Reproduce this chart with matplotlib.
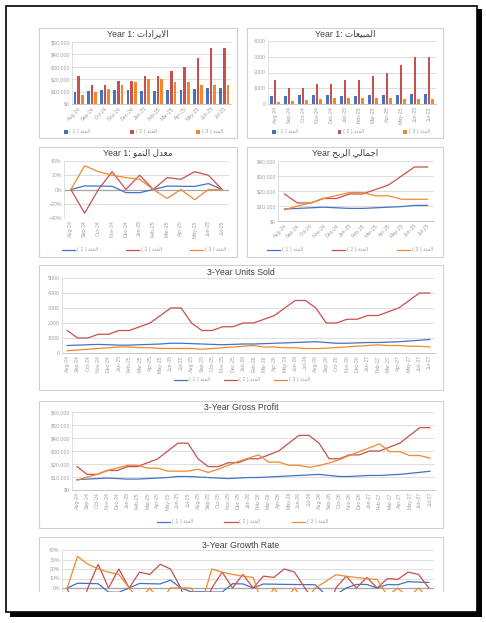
import matplotlib
matplotlib.use("Agg")
from matplotlib import pyplot as plt
from matplotlib.patches import Rectangle
from matplotlib.ticker import StrMethodFormatter, PercentFormatter

W, H = 486, 623

# ---- data -------------------------------------------------------------
month_names = ['Aug', 'Sep', 'Oct', 'Nov', 'Dec', 'Jan', 'Feb', 'Mar', 'Apr', 'May', 'Jun', 'Jul']
months = []
for yr in (24, 25, 26):
    for k, m in enumerate(month_names):
        months.append('%s-%d' % (m, yr if k < 5 else yr + 1))

rev_cat1 = [10000, 10500, 11000, 11500, 11000, 10500, 10500, 11000, 11500, 12000, 13000, 13000]
rev_cat2 = [22500, 15000, 15000, 18750, 18750, 22500, 22500, 26250, 30000, 37500, 45000, 45000]
rev_cat3 = [7500, 10000, 12500, 15000, 17500, 20000, 20000, 17500, 17500, 15000, 15000, 15000]

units_cat1 = [500, 525, 550, 575, 550, 525, 525, 550, 575, 600, 650, 650,
              625, 600, 575, 550, 575, 600, 600, 625, 650, 675, 700, 725,
              750, 700, 650, 650, 675, 700, 700, 725, 750, 800, 850, 900]
units_cat2 = [1500, 1000, 1000, 1250, 1250, 1500, 1500, 1750, 2000, 2500, 3000, 3000,
              2000, 1500, 1500, 1750, 1750, 2000, 2000, 2250, 2500, 3000, 3500, 3500,
              3000, 2000, 2000, 2250, 2250, 2500, 2500, 2750, 3000, 3500, 4000, 4000]
units_cat3 = [150, 200, 250, 300, 350, 400, 400, 350, 350, 300, 300, 300,
              300, 250, 300, 350, 400, 450, 500, 400, 400, 350, 350, 300,
              300, 320, 365, 410, 455, 500, 545, 500, 500, 450, 450, 400]

gp_cat1 = [8000, 8400, 8800, 9200, 8800, 8400, 8400, 8800, 9200, 9600, 10400, 10400,
           10000, 9600, 9200, 8800, 9200, 9600, 9600, 10000, 10400, 10800, 11200, 11600,
           12000, 11200, 10400, 10400, 10800, 11200, 11200, 11600, 12000, 12800, 13600, 14400]
gp_cat2 = [18000, 12000, 12000, 15000, 15000, 18000, 18000, 21000, 24000, 30000, 36000, 36000,
           24000, 18000, 18000, 21000, 21000, 24000, 24000, 27000, 30000, 36000, 42000, 42000,
           36000, 24000, 24000, 27000, 27000, 30000, 30000, 33000, 36000, 42000, 48000, 48000]
gp_cat3 = [7500, 10000, 12000, 15000, 17000, 19000, 19000, 16800, 16800, 14500, 14500, 14500,
           16000, 13500, 16000, 19000, 22000, 24500, 27000, 21500, 21500, 19000, 19000, 17500,
           18800, 20800, 23300, 26500, 29500, 32500, 35500, 29500, 29500, 26500, 26500, 24500]

gr_cat1 = [0, .05, .048, .045, -.043, -.045, 0, .048, .045, .043, .083, 0,
           -.04, -.04, -.042, -.043, .045, .043, 0, .042, .04, .038, .037, .036,
           .034, -.067, -.071, 0, .038, .037, 0, .036, .034, .067, .062, .059]
gr_cat2 = [0, -.333, 0, .25, 0, .2, 0, .167, .143, .25, .2, 0,
           -.333, -.25, 0, .167, 0, .143, 0, .125, .111, .2, .167, 0,
           -.143, -.333, 0, .125, 0, .111, 0, .1, .091, .167, .143, 0]
gr_cat3 = [0, .333, .25, .2, .167, .143, 0, -.125, 0, -.143, 0, 0,
           0, -.167, .2, .167, .143, .125, .111, -.2, 0, -.143, 0, -.143,
           0, .067, .14, .123, .11, .099, .09, -.083, 0, -.1, 0, -.111]

colors = ['#4472C4', '#C9504D', '#F0892E']
grid_c = '#d9d9d9'
txt_c = '#a0a0a0'

# ---- tiny arabic shaper (matplotlib has no bidi / joining) ---------------
FORMS = {
    '\u0627': ('\ufe8d', '\ufe8e', None, None),
    '\u0628': ('\ufe8f', '\ufe90', '\ufe91', '\ufe92'),
    '\u062a': ('\ufe95', '\ufe96', '\ufe97', '\ufe98'),
    '\u0629': ('\ufe93', '\ufe94', None, None),
    '\u062c': ('\ufe9d', '\ufe9e', '\ufe9f', '\ufea0'),
    '\u062d': ('\ufea1', '\ufea2', '\ufea3', '\ufea4'),
    '\u062f': ('\ufea9', '\ufeaa', None, None),
    '\u0631': ('\ufead', '\ufeae', None, None),
    '\u0639': ('\ufec9', '\ufeca', '\ufecb', '\ufecc'),
    '\u0641': ('\ufed1', '\ufed2', '\ufed3', '\ufed4'),
    '\u0644': ('\ufedd', '\ufede', '\ufedf', '\ufee0'),
    '\u0645': ('\ufee1', '\ufee2', '\ufee3', '\ufee4'),
    '\u0646': ('\ufee5', '\ufee6', '\ufee7', '\ufee8'),
    '\u0648': ('\ufeed', '\ufeee', None, None),
    '\u064a': ('\ufef1', '\ufef2', '\ufef3', '\ufef4'),
    '\u0626': ('\ufe89', '\ufe8a', '\ufe8b', '\ufe8c'),
    'LA': ('\ufefb', '\ufefc', None, None),
}


def shape_word(word):
    toks = []
    i = 0
    while i < len(word):
        if word[i] == '\u0644' and i + 1 < len(word) and word[i + 1] == '\u0627':
            toks.append('LA')
            i += 2
        else:
            toks.append(word[i])
            i += 1
    out = []
    for j, t in enumerate(toks):
        f = FORMS[t]
        jp = j > 0 and FORMS[toks[j - 1]][2] is not None
        jn = f[2] is not None and j + 1 < len(toks)
        if jp and jn:
            out.append(f[3])
        elif jp:
            out.append(f[1])
        elif jn:
            out.append(f[2])
        else:
            out.append(f[0])
    return ''.join(reversed(out))


def ar(text):
    return ' '.join(shape_word(w) for w in reversed(text.split(' ')))


cat_word = ar('الفئة')
series_labels = ['( 1 ) ' + cat_word, '( 2 ) ' + cat_word, '( 3 ) ' + cat_word]
FAM = ['Liberation Sans', 'DejaVu Sans']

# ---- figure -------------------------------------------------------------
fig = plt.figure(figsize=(W / 100, H / 100), dpi=100)
fig.patch.set_facecolor('white')


def fr(l, t, r, b):
    return [l / W, 1 - b / H, (r - l) / W, (b - t) / H]


def panel(l, t, r, b, title, tx=None, ty=None):
    fig.add_artist(Rectangle((l / W, 1 - b / H), (r - l) / W, (b - t) / H,
                             transform=fig.transFigure, fill=False,
                             ec='#d0d0d0', lw=0.8))
    fig.text((tx if tx else (l + r) / 2) / W, 1 - (ty if ty else t + 7) / H, title,
             ha='center', va='center', fontsize=6.3, color='#404040', family=FAM)


def style(ax, rot, fmt, yticks, ylim=None):
    ax.set_yticks(yticks)
    ax.set_ylim(ylim if ylim else (yticks[0], yticks[-1]))
    ax.yaxis.set_major_formatter(fmt)
    ax.grid(axis='y', color=grid_c, lw=0.6)
    ax.set_axisbelow(True)
    for s in ['top', 'right']:
        ax.spines[s].set_visible(False)
    ax.spines['left'].set_color(grid_c)
    ax.spines['left'].set_linewidth(0.6)
    ax.spines['bottom'].set_color('#bfbfbf')
    ax.spines['bottom'].set_linewidth(0.6)
    ax.tick_params(length=0, labelsize=3.8, labelcolor=txt_c, pad=1.5)
    for lab in ax.get_xticklabels() + ax.get_yticklabels():
        lab.set_family(FAM)
    if rot == 45:
        plt.setp(ax.get_xticklabels(), rotation=45, ha='right', rotation_mode='anchor')
    else:
        plt.setp(ax.get_xticklabels(), rotation=90)


def legend(ax, handles, l, r, y):
    leg = fig.legend(handles, series_labels, loc='center', ncol=3, mode='expand',
                     bbox_to_anchor=(l / W, 1 - y / H, (r - l) / W, 0), frameon=False,
                     prop={'family': FAM, 'size': 3.8}, labelcolor=txt_c,
                     handlelength=2.5 if isinstance(handles[0], plt.Line2D) else 0.7,
                     handleheight=0.7, handletextpad=0.3, borderaxespad=0)
    return leg


money = StrMethodFormatter('${x:,.0f}')

# Panel 1: revenue bars
panel(39, 28, 237, 138, 'Year 1: ' + ar('الايرادات'), ty=34)
ax = fig.add_axes(fr(72, 42, 231, 104))
x12 = list(range(12))
bars = []
for k, vals in enumerate([rev_cat1, rev_cat2, rev_cat3]):
    bars.append(ax.bar([i + (k - 1) * 0.27 for i in x12], vals, 0.2, color=colors[k]))
ax.set_xlim(-0.5, 11.5)
ax.set_xticks(x12, months[:12])
style(ax, 45, money, [0, 10000, 20000, 30000, 40000, 50000])
legend(ax, bars, 62, 225, 132)

# Panel 2: units bars
panel(247, 28, 443, 138, 'Year 1: ' + ar('المبيعات'), ty=34)
ax = fig.add_axes(fr(268, 41, 436, 104))
bars = []
for k, vals in enumerate([units_cat1, units_cat2, units_cat3]):
    bars.append(ax.bar([i + (k - 1) * 0.27 for i in x12], vals[:12], 0.2, color=colors[k]))
ax.set_xlim(-0.5, 11.5)
ax.set_xticks(x12, months[:12])
style(ax, 90, StrMethodFormatter('{x:.0f}'), [0, 1000, 2000, 3000, 4000])
legend(ax, bars, 270, 432, 132)

# Panel 3: growth lines
panel(39, 147, 237, 257, 'Year 1: ' + ar('معدل النمو'), ty=153)
ax = fig.add_axes(fr(64, 161, 229, 218))
lines = []
for k, vals in enumerate([gr_cat1, gr_cat2, gr_cat3]):
    lines += ax.plot(x12, vals[:12], color=colors[k], lw=0.9)
ax.axhline(0, color='#a6a6a6', lw=0.9, zorder=1)
ax.set_xlim(-0.5, 11.5)
ax.set_xticks(x12, months[:12])
style(ax, 90, PercentFormatter(1.0, decimals=0), [-0.4, -0.2, 0, 0.2, 0.4])
ax.spines['bottom'].set_visible(False)
legend(ax, lines, 60, 228, 250)

# Panel 4: gross profit lines
panel(247, 147, 443, 257, 'Year ' + ar('اجمالي الربح'), ty=153)
ax = fig.add_axes(fr(278, 161, 434, 221))
lines = []
for k, vals in enumerate([gp_cat1, gp_cat2, gp_cat3]):
    lines += ax.plot(x12, vals[:12], color=colors[k], lw=0.9)
ax.set_xlim(-0.5, 11.5)
ax.set_xticks(x12, months[:12])
style(ax, 45, money, [0, 10000, 20000, 30000, 40000])
legend(ax, lines, 265, 435, 250)

x36 = list(range(36))

# Panel 5: 3-year units
panel(39, 265, 443, 390, '3-Year Units Sold', ty=272)
ax = fig.add_axes(fr(62, 278, 435, 353))
lines = []
for k, vals in enumerate([units_cat1, units_cat2, units_cat3]):
    lines += ax.plot(x36, vals, color=colors[k], lw=0.9)
ax.set_xlim(-0.5, 35.5)
ax.set_xticks(x36, months)
style(ax, 90, StrMethodFormatter('{x:.0f}'), [0, 1000, 2000, 3000, 4000, 5000])
legend(ax, lines, 172, 312, 380)

# Panel 6: 3-year gross profit
panel(39, 401, 443, 528, '3-Year Gross Profit', ty=408)
ax = fig.add_axes(fr(72, 412, 435, 490))
lines = []
for k, vals in enumerate([gp_cat1, gp_cat2, gp_cat3]):
    lines += ax.plot(x36, vals, color=colors[k], lw=0.9)
ax.set_xlim(-0.5, 35.5)
ax.set_xticks(x36, months)
style(ax, 90, money, [0, 10000, 20000, 30000, 40000, 50000, 60000])
legend(ax, lines, 155, 330, 522)

# Panel 7: 3-year growth (cut by page end, only upper half visible)
panel(39, 537, 443, 640, '3-Year Growth Rate', ty=545)
ax = fig.add_axes(fr(62, 550, 434, 626))
for k, vals in enumerate([gr_cat1, gr_cat2, gr_cat3]):
    ax.plot(x36, vals, color=colors[k], lw=0.9)
ax.axhline(0, color='#a6a6a6', lw=0.9, zorder=1)
ax.set_xlim(-0.5, 35.5)
ax.set_xticks(x36, [])
style(ax, 90, PercentFormatter(1.0, decimals=0), [0, 0.1, 0.2, 0.3, 0.4], ylim=(-0.4, 0.4))
ax.spines['bottom'].set_visible(False)

# page end: blank strip, page frame and its shadow
fig.add_artist(Rectangle((0, 0), 1, 1 - 592 / H, transform=fig.transFigure,
                         fc='white', ec='none', zorder=20))
fig.add_artist(Rectangle((6 / W, 1 - 612 / H), 471 / W, 606 / H, transform=fig.transFigure,
                         fill=False, ec='black', lw=1.2, zorder=21))
fig.add_artist(Rectangle((477 / W, 1 - 616 / H), 5 / W, 607 / H, transform=fig.transFigure,
                         fc='black', ec='none', zorder=21))
fig.add_artist(Rectangle((10 / W, 1 - 617 / H), 472 / W, 5 / H, transform=fig.transFigure,
                         fc='black', ec='none', zorder=21))

fig.savefig('out.png', dpi=100)
